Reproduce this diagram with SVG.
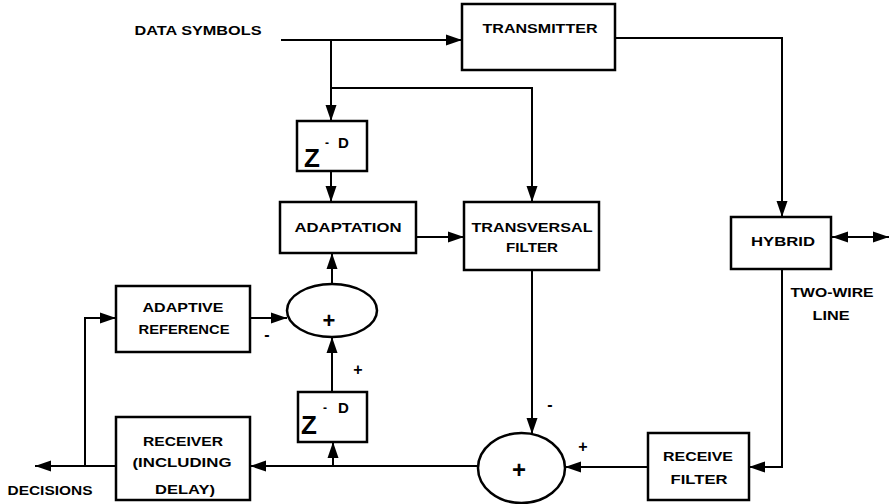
<svg xmlns="http://www.w3.org/2000/svg" width="891" height="504" viewBox="0 0 891 504">
<style>
.box{fill:#fff;stroke:#000;stroke-width:2.5}
.ln{fill:none;stroke:#000;stroke-width:2}
.t{font-family:"Liberation Sans",Arial,sans-serif;font-weight:bold;font-size:12px;text-anchor:middle;fill:#000}
.z{font-family:"Liberation Sans",Arial,sans-serif;font-weight:bold;fill:#000}
.sign{font-family:"Liberation Sans",Arial,sans-serif;font-weight:bold;font-size:16px;text-anchor:middle;fill:#000}
</style>
<defs>
<marker id="ah" markerUnits="userSpaceOnUse" markerWidth="17" markerHeight="12" refX="16" refY="6" orient="auto-start-reverse">
<path d="M0,0.5 L16,6 L0,11.5 Z" fill="#000"/>
</marker>
</defs>
<rect width="891" height="504" fill="#fff"/>
<g id="connectors">
<path class="ln" d="M281 40 H462" marker-end="url(#ah)"/>
<path class="ln" d="M331 40 V121" marker-end="url(#ah)"/>
<path class="ln" d="M331 88 H532 V202" marker-end="url(#ah)"/>
<path class="ln" d="M331 171 V202" marker-end="url(#ah)"/>
<path class="ln" d="M416 237 H464" marker-end="url(#ah)"/>
<path class="ln" d="M615 38 H782 V217" marker-end="url(#ah)"/>
<path class="ln" d="M832 237 H889" marker-start="url(#ah)" marker-end="url(#ah)"/>
<path class="ln" d="M782 269 V467 H749" marker-end="url(#ah)"/>
<path class="ln" d="M648 467 H565" marker-end="url(#ah)"/>
<path class="ln" d="M532 270 V434" marker-end="url(#ah)"/>
<path class="ln" d="M478 466 H250" marker-end="url(#ah)"/>
<path class="ln" d="M333 466 V442" marker-end="url(#ah)"/>
<path class="ln" d="M332 392 V337" marker-end="url(#ah)"/>
<path class="ln" d="M332 284 V253" marker-end="url(#ah)"/>
<path class="ln" d="M250 318 H287" marker-end="url(#ah)"/>
<path class="ln" d="M116 466 H35" marker-end="url(#ah)"/>
<path class="ln" d="M85 466 V318 H116" marker-end="url(#ah)"/>
</g>
<g id="data-symbols"><text class="t" x="198" y="35" textLength="127" lengthAdjust="spacingAndGlyphs">DATA SYMBOLS</text></g>
<g id="transmitter"><rect class="box" x="462" y="4" width="153" height="66"/><text class="t" x="540" y="33" textLength="115" lengthAdjust="spacingAndGlyphs">TRANSMITTER</text></g>
<g id="z-upper"><rect class="box" x="297" y="121" width="70" height="50"/><text class="z" x="304" y="167" font-size="26">Z</text><text class="z" x="325" y="147" font-size="12">-</text><text class="z" x="338" y="148" font-size="15">D</text></g>
<g id="adaptation"><rect class="box" x="280" y="202" width="136" height="51"/><text class="t" x="348" y="232" textLength="107" lengthAdjust="spacingAndGlyphs">ADAPTATION</text></g>
<g id="transversal-filter"><rect class="box" x="464" y="202" width="135" height="68"/><text class="t" x="532" y="232" textLength="121" lengthAdjust="spacingAndGlyphs">TRANSVERSAL</text><text class="t" x="532" y="252" textLength="52" lengthAdjust="spacingAndGlyphs">FILTER</text></g>
<g id="hybrid"><rect class="box" x="731" y="217" width="100" height="52"/><text class="t" x="783" y="246" textLength="64" lengthAdjust="spacingAndGlyphs">HYBRID</text></g>
<g id="two-wire-line"><text class="t" x="832" y="297" textLength="83" lengthAdjust="spacingAndGlyphs">TWO-WIRE</text><text class="t" x="831" y="320" textLength="37" lengthAdjust="spacingAndGlyphs">LINE</text></g>
<g id="adaptive-reference"><rect class="box" x="116" y="286" width="134" height="66"/><text class="t" x="183" y="312" textLength="81" lengthAdjust="spacingAndGlyphs">ADAPTIVE</text><text class="t" x="184" y="334" textLength="91" lengthAdjust="spacingAndGlyphs">REFERENCE</text></g>
<g id="sum-upper"><ellipse class="box" cx="332" cy="310.5" rx="45" ry="26.5"/><text class="z" x="329" y="328" font-size="22" text-anchor="middle" font-weight="normal">+</text></g>
<g id="z-lower"><rect class="box" x="298" y="392" width="69" height="50"/><text class="z" x="301" y="434" font-size="26">Z</text><text class="z" x="323" y="412" font-size="12">-</text><text class="z" x="338" y="413" font-size="15">D</text></g>
<g id="receiver"><rect class="box" x="116" y="417" width="134" height="83"/><text class="t" x="183" y="446" textLength="80" lengthAdjust="spacingAndGlyphs">RECEIVER</text><text class="t" x="182" y="467" textLength="99" lengthAdjust="spacingAndGlyphs">(INCLUDING</text><text class="t" x="185" y="494" textLength="60" lengthAdjust="spacingAndGlyphs">DELAY)</text></g>
<g id="decisions"><text class="t" x="50" y="495" textLength="85" lengthAdjust="spacingAndGlyphs">DECISIONS</text></g>
<g id="sum-lower"><ellipse class="box" cx="521.5" cy="468" rx="43.5" ry="35"/><text class="z" x="519" y="478" font-size="24" text-anchor="middle" font-weight="normal">+</text></g>
<g id="receive-filter"><rect class="box" x="648" y="433" width="101" height="67"/><text class="t" x="698" y="461" textLength="70" lengthAdjust="spacingAndGlyphs">RECEIVE</text><text class="t" x="699" y="484" textLength="57" lengthAdjust="spacingAndGlyphs">FILTER</text></g>
<g id="signs"><text class="sign" x="267" y="340">-</text><text class="sign" x="358" y="375">+</text><text class="sign" x="550" y="410">-</text><text class="sign" x="583" y="452">+</text></g>
</svg>
